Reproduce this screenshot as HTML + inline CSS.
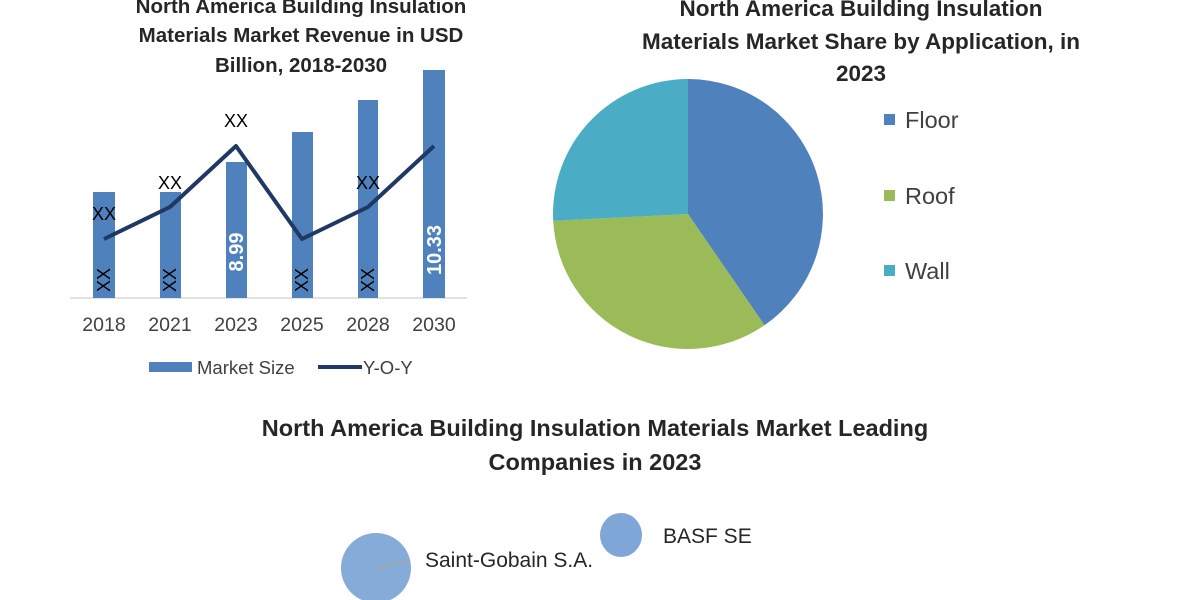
<!DOCTYPE html>
<html><head><meta charset="utf-8"><style>
body{margin:0;background:#fff;}
svg{display:block;font-family:"Liberation Sans",sans-serif;}
</style></head><body>
<svg width="1200" height="600" viewBox="0 0 1200 600">
<rect width="1200" height="600" fill="#fff"/>
<g font-weight="bold" font-size="20.5" fill="#262626" text-anchor="middle">
<text x="301" y="13">North America Building Insulation</text>
<text x="301" y="42">Materials Market Revenue in USD</text>
<text x="301" y="72">Billion, 2018-2030</text>
</g>
<line x1="70" y1="298" x2="467" y2="298" stroke="#d9d9d9" stroke-width="1.5"/>
<g fill="#4f81bd">
<rect x="93" y="192" width="22" height="106"/>
<rect x="160" y="192" width="21" height="106"/>
<rect x="226" y="162" width="21" height="136"/>
<rect x="292" y="132" width="21" height="166"/>
<rect x="358" y="100" width="20" height="198"/>
<rect x="423" y="70" width="22" height="228"/>
</g>
<polyline points="104,239 170,207 236,146 302,239 368,207 434,146" fill="none" stroke="#1f3864" stroke-width="4" stroke-linejoin="round"/>
<g font-size="18" fill="#000" text-anchor="middle">
<text x="104" y="220">XX</text><text x="170" y="189">XX</text><text x="236" y="127">XX</text><text x="368" y="189">XX</text>
</g>
<g font-size="18" fill="#000" text-anchor="middle">
<text transform="translate(110,280) rotate(-90)">XX</text>
<text transform="translate(176,280) rotate(-90)">XX</text>
<text transform="translate(308,280) rotate(-90)">XX</text>
<text transform="translate(374,280) rotate(-90)">XX</text>
</g>
<g font-size="20" font-weight="bold" fill="#fff" text-anchor="middle">
<text transform="translate(243,252) rotate(-90)">8.99</text>
<text transform="translate(441,250) rotate(-90)">10.33</text>
</g>
<g font-size="19.5" fill="#404040" text-anchor="middle">
<text x="104" y="331">2018</text><text x="170" y="331">2021</text><text x="236" y="331">2023</text>
<text x="302" y="331">2025</text><text x="368" y="331">2028</text><text x="434" y="331">2030</text>
</g>
<rect x="149" y="362" width="43" height="10" fill="#4f81bd"/>
<text x="197" y="374" font-size="18.5" fill="#404040">Market Size</text>
<line x1="318" y1="367" x2="362" y2="367" stroke="#1f3864" stroke-width="4"/>
<text x="363" y="374" font-size="18.5" fill="#404040">Y-O-Y</text>

<g font-weight="bold" font-size="22.5" fill="#262626" text-anchor="middle">
<text x="861" y="16">North America Building Insulation</text>
<text x="861" y="49">Materials Market Share by Application, in</text>
<text x="861" y="81">2023</text>
</g>
<g transform="translate(688,214)">
<path d="M0,0 L0,-135 A135,135 0 0 1 76.5,111.2 Z" fill="#4f81bd"/>
<path d="M0,0 L76.5,111.2 A135,135 0 0 1 -134.8,6.9 Z" fill="#9bbb59"/>
<path d="M0,0 L-134.8,6.9 A135,135 0 0 1 0,-135 Z" fill="#4bacc6"/>
</g>
<g font-size="23.5" fill="#404040">
<rect x="884" y="114" width="11" height="11" fill="#4f81bd"/><text x="905" y="128">Floor</text>
<rect x="884" y="190" width="11" height="11" fill="#9bbb59"/><text x="905" y="204">Roof</text>
<rect x="884" y="265" width="11" height="11" fill="#4bacc6"/><text x="905" y="279">Wall</text>
</g>

<g font-weight="bold" font-size="23.5" fill="#262626" text-anchor="middle">
<text x="595" y="436">North America Building Insulation Materials Market Leading</text>
<text x="595" y="470">Companies in 2023</text>
</g>
<ellipse cx="376" cy="568" rx="35" ry="35" fill="#7ea6d6" opacity="0.95"/>
<ellipse cx="621" cy="535" rx="21" ry="22" fill="#7ea6d6"/>
<line x1="376" y1="568" x2="410" y2="560" stroke="#a6a6a6" stroke-width="1.5"/>
<g font-size="21" fill="#262626">
<text x="425" y="567">Saint-Gobain S.A.</text>
<text x="663" y="543">BASF SE</text>
</g>
</svg>
</body></html>
